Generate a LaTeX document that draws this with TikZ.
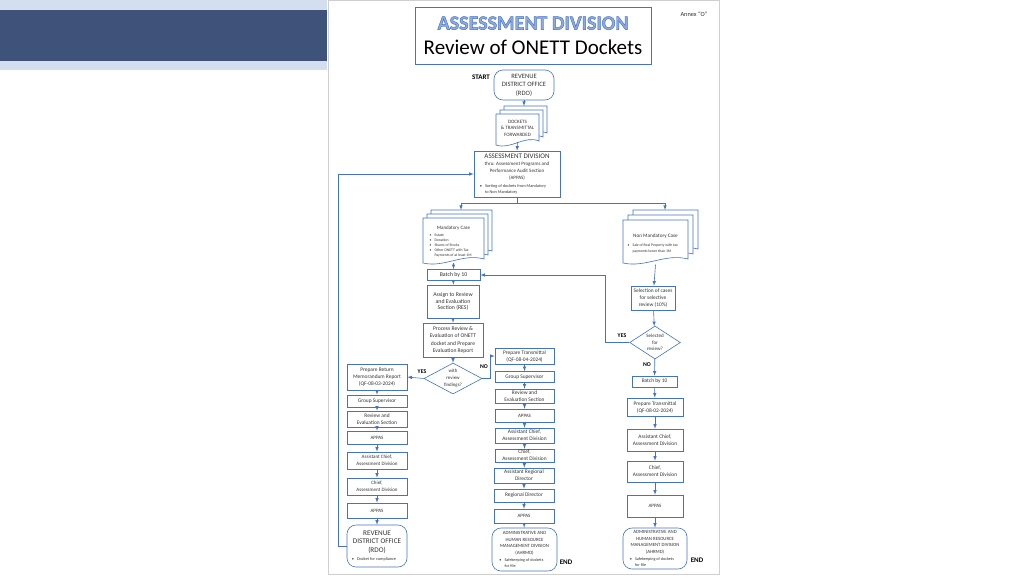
\documentclass[tikz,border=0pt]{standalone}
\usepackage{fontspec}
\setmainfont{Carlito}
\usepackage{tikz}
\usetikzlibrary{shapes.geometric}
\usetikzlibrary{arrows}

\definecolor{flowblue}{HTML}{4472C4}
\definecolor{titlefill}{HTML}{8FAADC}
\definecolor{txtgray}{HTML}{333333}
\definecolor{bandlight}{HTML}{D3DEEF}
\definecolor{banddark}{HTML}{3F5279}
\definecolor{pageedge}{HTML}{CFCFCF}

\newcommand{\fsz}[2]{\fontsize{#1}{#2}\selectfont}
% outlined letters (fill + stroke)
\newcommand{\outlined}[1]{\special{pdf:literal direct 0.267 0.447 0.769 RG 0.45 w 2 Tr}#1\special{pdf:literal direct 0 Tr}}
% bullet lists inside boxes
\newcommand{\bulletnote}[2]{\parbox[t]{#1}{\raggedright\leftskip=6pt #2}}
\newcommand{\bitem}{\par\leavevmode\llap{\textbullet\hspace{3pt}}}
% one page of a multi-document, wavy bottom
\newcommand{\docpage}[4]{\draw[docline] (#1,#2) -- (#3,#2) -- (#3,#4-4) .. controls ({#3-0.35*(#3-#1)},{#4-10}) and ({#1+0.35*(#3-#1)},{#4+5}) .. (#1,#4) -- cycle;}

\begin{document}
\begin{tikzpicture}[x=1pt, y=-1pt,
	flowline/.style={draw=flowblue, line width=0.6pt},
	arr/.style={flowline, -latex},
	bx/.style 2 args={minimum width=#1pt, minimum height=#2pt},
	flowbox/.style={draw=flowblue, fill=white, line width=0.6pt, inner sep=0pt, align=center, text=txtgray, font=\fsz{5.4}{7}},
	roundbox/.style={flowbox, rounded corners=9pt},
	decision/.style={diamond, draw=flowblue, fill=white, line width=0.6pt, inner sep=0pt, aspect=2, align=center, text=txtgray, font=\fsz{4.9}{6.8}},
	docline/.style={draw=flowblue, fill=white, line width=0.6pt},
	docnode/.style={inner sep=0pt, align=center, text=txtgray},
	flowtag/.style={inner sep=0pt, font=\fsz{5.8}{6}\bfseries, text=black}]
		\useasboundingbox (0,0) rectangle (1024,576);
		% Background and page:
		\fill[white] (0,0) rectangle (1024,576);
		\fill[bandlight] (0,0) rectangle (327,70);
		\fill[banddark] (0,10) rectangle (327,61);
		\draw[pageedge, line width=0.8pt] (328.5,0.5) rectangle (719.5,574.5);
		% Title:
		\node[draw=flowblue, line width=0.6pt, bx={236}{57}, inner sep=0pt, align=center] (title) at (533,35.5) {\fsz{20}{26}\bfseries\color{titlefill}\outlined{ASSESSMENT DIVISION}\\[9pt]\fsz{21}{26}\mdseries\color{black}Review of ONETT Dockets};
		\node[inner sep=0pt, font=\fsz{6.3}{7}, text=txtgray] (annex) at (694,14) {Annex “O”};
		\node[flowtag, font=\fsz{7}{8}\bfseries] (start) at (481,77) {START};
		% Top part:
		\node[roundbox, bx={60}{30}, font=\fsz{6.6}{8.5}] (rdotop) at (524,85) {REVENUE\\DISTRICT OFFICE\\(RDO)};
		\docpage{504}{106}{547}{137}
		\docpage{500}{110}{543}{141}
		\docpage{496}{114}{539}{145}
		\coordinate (docktop) at (524,106);
		\node[docnode, bx={43}{28}, font=\fsz{5}{6.5}] (dock) at (517.5,128) {DOCKETS\\\& TRANSMITTAL\\FORWARDED};
		\node[flowbox, bx={86}{46}, font=\fsz{5}{7}] (assess) at (517,174) {\fsz{7}{7}ASSESSMENT DIVISION\\\fsz{5}{7}thru: Assessment Programs and\\Performance Audit Section\\(APPAS)\\[1pt]\fsz{4.3}{6.8}\bulletnote{76pt}{\bitem Sorting of dockets from Mandatory\\to Non Mandatory}};
		\coordinate (split) at (517,203);
		% Mandatory and non mandatory cases:
		\docpage{431}{210}{492}{255}
		\docpage{427}{214}{488}{259}
		\docpage{423}{218}{484}{263}
		\coordinate (mandtop) at (461,210);
		\node[docnode, bx={61}{43}, font=\fsz{5}{6.5}] (mand) at (453.5,241.5) {Mandatory Case\\[0.5pt]\fsz{3.8}{5}\bulletnote{50pt}{\bitem Estate\bitem Donation\bitem Shares of Stocks\bitem Other ONETT with Tax\\Payments of at least 1M}};
		\docpage{633}{210}{698}{253}
		\docpage{628}{215}{693}{258}
		\docpage{623}{220}{688}{263}
		\coordinate (nonmtop) at (665,210);
		\node[docnode, bx={65}{42}, font=\fsz{5.2}{8}] (nonm) at (655.5,243.5) {Non Mandatory Case\\[1pt]\fsz{3.8}{6}\bulletnote{58pt}{\bitem Sale of Real Property with tax\\payments lower than 1M}};
		% Mandatory path:
		\node[flowbox, bx={53}{11}, font=\fsz{5.8}{7}] (batchl) at (453.5,275) {Batch by 10};
		\node[flowbox, bx={52}{33}, font=\fsz{5.8}{6.8}] (assign) at (453,301.5) {Assign to Review\\and Evaluation\\Section (RES)};
		\node[flowbox, bx={60}{34}, font=\fsz{5.6}{7.3}] (process) at (453,340) {Process Review \&\\Evaluation of ONETT\\docket and Prepare\\Evaluation Report};
		\node[decision, bx={58}{31}] (findings) at (453,378.5) {with\\review\\findings?};
		% Return memorandum column:
		\node[flowbox, bx={60}{26}] (lprep) at (377,377) {Prepare Return\\Memorandum Report\\(QF-08-03-2024)};
		\node[flowbox, bx={60}{12}] (lgs) at (377,401) {Group Supervisor};
		\node[flowbox, bx={60}{16}] (lres) at (377,419) {Review and\\Evaluation Section};
		\node[flowbox, bx={60}{13}, font=\fsz{5}{7}] (lappasa) at (377,437.5) {APPAS};
		\node[flowbox, bx={60}{17}, font=\fsz{5}{7}] (lasst) at (377,460.5) {Assistant Chief,\\Assessment Division};
		\node[flowbox, bx={60}{17}, font=\fsz{5}{7}] (lchief) at (377,486.5) {Chief,\\Assessment Division};
		\node[flowbox, bx={60}{15}, font=\fsz{5}{7}] (lappasb) at (377,510.5) {APPAS};
		\node[roundbox, bx={60}{42}, font=\fsz{7.2}{8.5}] (lrdo) at (377,546) {REVENUE\\DISTRICT OFFICE\\(RDO)\\[-0.5pt]\fsz{4.3}{5}\bulletnote{52pt}{\bitem Docket for compliance}};
		% Transmittal column:
		\node[flowbox, bx={59}{16}] (mprep) at (524.5,356) {Prepare Transmittal\\(QF-08-04-2024)};
		\node[flowbox, bx={59}{11}] (mgs) at (524.5,377) {Group Supervisor};
		\node[flowbox, bx={59}{14}] (mres) at (524.5,396) {Review and\\Evaluation Section};
		\node[flowbox, bx={59}{13}, font=\fsz{5}{7}] (mappasa) at (524.5,415.5) {APPAS};
		\node[flowbox, bx={59}{15}] (masst) at (524.5,435.5) {Assistant Chief,\\Assessment Division};
		\node[flowbox, bx={59}{13}] (mchief) at (524.5,455.5) {Chief,\\Assessment Division};
		\node[flowbox, bx={60}{15}] (mard) at (524,475.5) {Assistant Regional\\Director};
		\node[flowbox, bx={60}{13}] (mrd) at (524,495.5) {Regional Director};
		\node[flowbox, bx={60}{14}, font=\fsz{5}{7}] (mappasb) at (524,516) {APPAS};
		\node[roundbox, bx={65}{43}, font=\fsz{4.8}{6.5}] (mahrmd) at (524.5,549.5) {ADMINISTRATIVE AND\\HUMAN RESOURCE\\MANAGEMENT DIVISION\\(AHRMD)\\[0.5pt]\fsz{4.2}{6}\bulletnote{52pt}{\bitem Safekeeping of dockets\\for file}};
		% Non mandatory path:
		\node[flowbox, bx={44}{24}] (select) at (653,298) {Selection of cases\\for selective\\review (10\%)};
		\node[decision, bx={50}{33}, font=\fsz{5}{6.6}] (selected) at (655,342.5) {Selected\\for\\review?};
		\node[flowbox, bx={45}{11}] (batchr) at (654.5,381.5) {Batch by 10};
		\node[flowbox, bx={56}{18}] (rprep) at (655,407) {Prepare Transmittal\\(QF-08-02-2024)};
		\node[flowbox, bx={56}{22}] (rasst) at (655,440) {Assistant Chief,\\Assessment Division};
		\node[flowbox, bx={56}{21}] (rchief) at (655,471.5) {Chief,\\Assessment Division};
		\node[flowbox, bx={56}{22}, font=\fsz{5}{7}] (rappas) at (655,506) {APPAS};
		\node[roundbox, bx={64}{41}, font=\fsz{4.8}{6.5}] (rahrmd) at (655,548.5) {ADMINISTRATIVE AND\\HUMAN RESOURCE\\MANAGEMENT DIVISION\\(AHRMD)\\[0.5pt]\fsz{4.2}{6}\bulletnote{52pt}{\bitem Safekeeping of dockets\\for file}};
		% Labels:
		\node[flowtag] (yesl) at (422,372) {YES};
		\node[flowtag] (nol) at (484,367) {NO};
		\node[flowtag] (yesr) at (622,336) {YES};
		\node[flowtag] (nor) at (647,365) {NO};
		\node[flowtag, font=\fsz{7}{8}\bfseries] (endm) at (566,562) {END};
		\node[flowtag, font=\fsz{7}{8}\bfseries] (endr) at (697,560) {END};
		% Connectors:
		\draw[arr] (rdotop) -- (docktop);
		\draw[arr] (dock.south) -- (assess.north);
		\draw[flowline] (assess.south) -- (split);
		\draw[arr] (split) -| (mandtop);
		\draw[arr] (split) -| (nonmtop);
		\draw[arr] (mand.south) -- (batchl);
		\draw[arr] (batchl) -- (assign);
		\draw[arr] (assign) -- (process);
		\draw[arr] (process) -- (findings);
		\draw[arr] (findings.west) -- (lprep.east);
		\draw[arr] (findings.east) -- ++(8,0) |- (mprep.west);
		\draw[arr] (lprep) -- (lgs);
		\draw[arr] (lgs) -- (lres);
		\draw[arr] (lres) -- (lappasa);
		\draw[arr] (lappasa) -- (lasst);
		\draw[arr] (lasst) -- (lchief);
		\draw[arr] (lchief) -- (lappasb);
		\draw[arr] (lappasb) -- (lrdo);
		\draw[arr] (lrdo.west) -- ++(-8,0) |- (assess.west);
		\draw[arr] (mprep) -- (mgs);
		\draw[arr] (mgs) -- (mres);
		\draw[arr] (mres) -- (mappasa);
		\draw[arr] (mappasa) -- (masst);
		\draw[arr] (masst) -- (mchief);
		\draw[arr] (mchief) -- (mard);
		\draw[arr] (mard) -- (mrd);
		\draw[arr] (mrd) -- (mappasb);
		\draw[arr] (mappasb) -- (mahrmd);
		\draw[arr] (nonm.south) -- (select);
		\draw[arr] (select) -- (selected);
		\draw[arr] (selected.west) -- ++(-24,0) |- (batchl.east);
		\draw[arr] (selected) -- (batchr);
		\draw[arr] (batchr) -- (rprep);
		\draw[arr] (rprep) -- (rasst);
		\draw[arr] (rasst) -- (rchief);
		\draw[arr] (rchief) -- (rappas);
		\draw[arr] (rappas) -- (rahrmd);
	\end{tikzpicture}
\end{document}
